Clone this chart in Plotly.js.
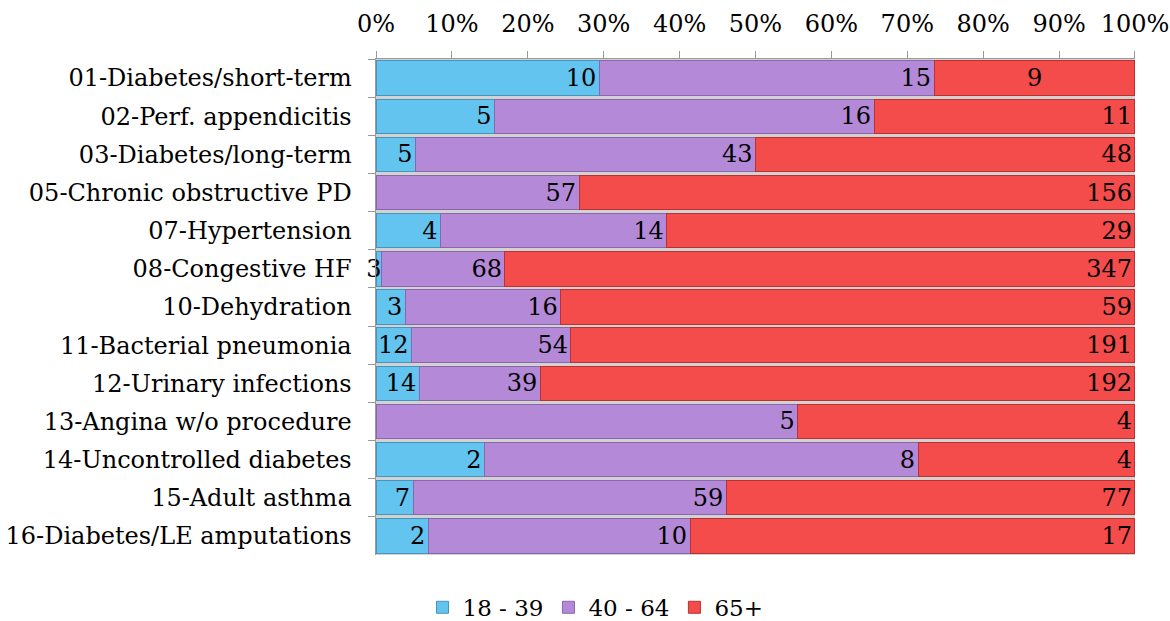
<!DOCTYPE html>
<html>
<head>
<meta charset="utf-8">
<script src="https://cdn.plot.ly/plotly-3.0.1.min.js"></script>
<style>html,body{margin:0;padding:0;background:#fff;}#chart{width:1170px;height:621px;}</style>
</head>
<body>
<div id="chart"></div>
<script>
const categories = [
  "01-Diabetes/short-term",
  "02-Perf. appendicitis",
  "03-Diabetes/long-term",
  "05-Chronic obstructive PD",
  "07-Hypertension",
  "08-Congestive HF",
  "10-Dehydration",
  "11-Bacterial pneumonia",
  "12-Urinary infections",
  "13-Angina w/o procedure",
  "14-Uncontrolled diabetes",
  "15-Adult asthma",
  "16-Diabetes/LE amputations"
];
const age18to39 = [10, 5, 5, 0, 4, 3, 3, 12, 14, 0, 2, 7, 2];
const age40to64 = [15, 16, 43, 57, 14, 68, 16, 54, 39, 5, 8, 59, 10];
const age65plus = [9, 11, 48, 156, 29, 347, 59, 191, 192, 4, 4, 77, 17];
const seriesNames = ["18 - 39", "40 - 64", "65+"];
const tickVals = [0, 10, 20, 30, 40, 50, 60, 70, 80, 90, 100];
const tickText = ["0%", "10%", "20%", "30%", "40%", "50%", "60%", "70%", "80%", "90%", "100%"];
// label of the 65+ segment in the first row is centred in the reference
const centredLabelRow = 0;

const FONT = "'DejaVu Serif', 'Liberation Serif', serif";
const FS = 24;
const colors = ["#62c4ef", "#b48ad8", "#f44b4b"];
const edges = ["#4595bd", "#8a66ad", "#b83232"];

function mk(vals, i, skipRow, clip) {
  return {
    type: "bar",
    orientation: "h",
    name: seriesNames[i],
    y: categories,
    x: vals,
    text: vals.map((v, k) => (v === 0 || k === skipRow) ? "" : String(v)),
    textposition: "inside",
    insidetextanchor: "end",
    textangle: 0,
    constraintext: "none",
    cliponaxis: clip,
    textfont: {family: FONT, size: FS, color: "#000"},
    marker: {color: colors[i], line: {color: edges[i], width: 1}},
    hoverinfo: "x+y+name"
  };
}

const data = [
  mk(age18to39, 0, -1, false),
  mk(age40to64, 1, -1, true),
  mk(age65plus, 2, centredLabelRow, true)
];

const r = centredLabelRow;
const tot = age18to39[r] + age40to64[r] + age65plus[r];
const startPct = 100 * (age18to39[r] + age40to64[r]) / tot;
const annotations = [{
  x: (startPct + 100) / 2,
  y: categories[r],
  xref: "x", yref: "y",
  text: String(age65plus[r]),
  showarrow: false,
  font: {family: FONT, size: FS, color: "#000"}
}];

const layout = {
  width: 1170,
  height: 621,
  margin: {l: 376, r: 35, t: 59, b: 66},
  paper_bgcolor: "#fff",
  plot_bgcolor: "#d2d2d2",
  barmode: "stack",
  barnorm: "percent",
  bargap: 0.1,
  font: {family: FONT, size: FS, color: "#000"},
  showlegend: true,
  annotations: annotations,
  legend: {
    orientation: "h",
    x: 0.509, xref: "container", xanchor: "center",
    y: 0.022, yref: "container", yanchor: "middle",
    font: {family: FONT, size: 23, color: "#000"},
    itemwidth: 30,
    traceorder: "normal"
  },
  xaxis: {
    side: "top",
    range: [0, 100.001],
    tickvals: tickVals,
    ticktext: tickText,
    ticks: "outside",
    ticklen: 7,
    tickcolor: "#999",
    showline: true,
    linecolor: "#999",
    linewidth: 1.5,
    showgrid: false,
    zeroline: false,
    ticklabelstandoff: 9,
    tickfont: {family: FONT, size: 24, color: "#000"},
    fixedrange: true
  },
  yaxis: {
    type: "category",
    autorange: "reversed",
    ticks: "outside",
    tickson: "boundaries",
    ticklen: 7,
    tickcolor: "#999",
    showline: true,
    linecolor: "#999",
    linewidth: 1.5,
    showgrid: false,
    zeroline: false,
    ticklabelstandoff: 18,
    tickfont: {family: FONT, size: FS, color: "#000"},
    fixedrange: true
  }
};

Plotly.newPlot("chart", data, layout, {displayModeBar: false, staticPlot: true});
</script>
</body>
</html>
